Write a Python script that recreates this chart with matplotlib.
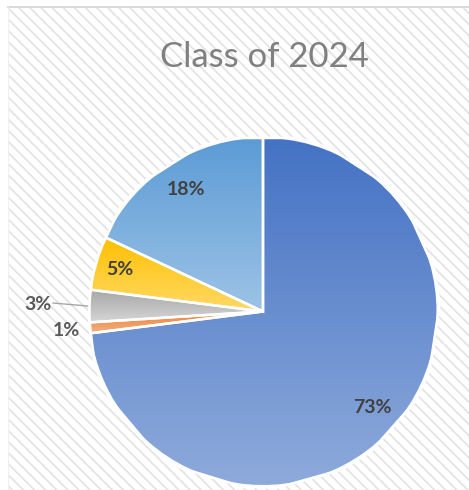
import numpy as np
import matplotlib
matplotlib.use("Agg")
import matplotlib.pyplot as plt
from matplotlib.colors import to_rgb
from matplotlib.patches import Rectangle

# ---- data ----
categories = ["A", "B", "C", "D", "E"]
values = [73, 1, 3, 5, 18]
labels = ["73%", "1%", "3%", "5%", "18%"]
title = "Class of 2024"

top_colors = ["#4472C4", "#ED7D31", "#A5A5A5", "#FFC000", "#5B9BD5"]
bottom_colors = ["#8EAADB", "#F4B183", "#D6D6D6", "#FFD966", "#9DC3E6"]

W, H = 469, 490
plt.rcParams['hatch.linewidth'] = 1.3
plt.rcParams['hatch.color'] = '#E4E4E4'

fig = plt.figure(figsize=(W / 100, H / 100), dpi=100)
ax = fig.add_axes([0, 0, 1, 1])

# hatched chart area
bg = Rectangle((8, 0), W - 8, H - 7, facecolor='white', edgecolor='#E4E4E4',
               hatch='\\\\\\', linewidth=0.0, zorder=0)
ax.add_patch(bg)

cx, cy, r = 263, H - 311.5, 173.5
wedges, _ = ax.pie(values, center=(cx, cy), radius=r, startangle=90,
                   counterclock=False, frame=True,
                   wedgeprops=dict(edgecolor='white', linewidth=1.8))
ax.set_xlim(0, W)
ax.set_ylim(0, H)
ax.set_aspect('equal')
ax.axis('off')

# top border line of the chart area
ax.plot([8, W], [H - 7, H - 7], color='#D3D3D3', linewidth=1.2, zorder=0.5)
ax.plot([8, 8], [0, H - 7], color='#F0F0F0', linewidth=0.8, zorder=0.5)

# vertical gradient fill per slice
for w, tc, bc in zip(wedges, top_colors, bottom_colors):
    ext = w.get_path().get_extents()
    t = np.linspace(0, 1, 256)[:, None]
    c0, c1 = np.array(to_rgb(tc)), np.array(to_rgb(bc))
    grad = (c0[None, :] * (1 - t) + c1[None, :] * t)[:, None, :]
    im = ax.imshow(grad, extent=[ext.x0, ext.x1, ext.y0, ext.y1], origin='upper',
                   aspect='auto', zorder=w.get_zorder() + 0.1, interpolation='bilinear')
    im.set_clip_path(w)
    w.set_facecolor(c0 * 0.5 + c1 * 0.5)
    e = plt.Polygon(w.get_path().vertices, closed=True, facecolor='none',
                    edgecolor='white', linewidth=1.8, zorder=w.get_zorder() + 0.2)
    ax.add_patch(e)

ax.set_xlim(0, W)
ax.set_ylim(0, H)

# labels
label_r = [0.84, 1.14, 1.30, 0.86, 0.83]
label_colors = ['#404040', '#595959', '#595959', '#404040', '#404040']
for w, lab, lr, lc in zip(wedges, labels, label_r, label_colors):
    ang = np.deg2rad((w.theta1 + w.theta2) / 2)
    x = cx + lr * r * np.cos(ang)
    y = cy + lr * r * np.sin(ang)
    ax.text(x, y, lab, ha='center', va='center', fontsize=14,
            fontweight='bold', color=lc, family='Lato', zorder=10)

# leader line for 3%
w3 = wedges[2]
ang3 = np.deg2rad((w3.theta1 + w3.theta2) / 2)
ex, ey = cx + r * np.cos(ang3), cy + r * np.sin(ang3)
ax.plot([53, ex - 2], [H - 303, ey], color='#A6A6A6', linewidth=1.0, zorder=10)

ax.text(264, H - 57, title, ha='center', va='center', fontsize=25,
        color='#808080', family='Lato', zorder=10)

fig.savefig('out.png', dpi=100)
